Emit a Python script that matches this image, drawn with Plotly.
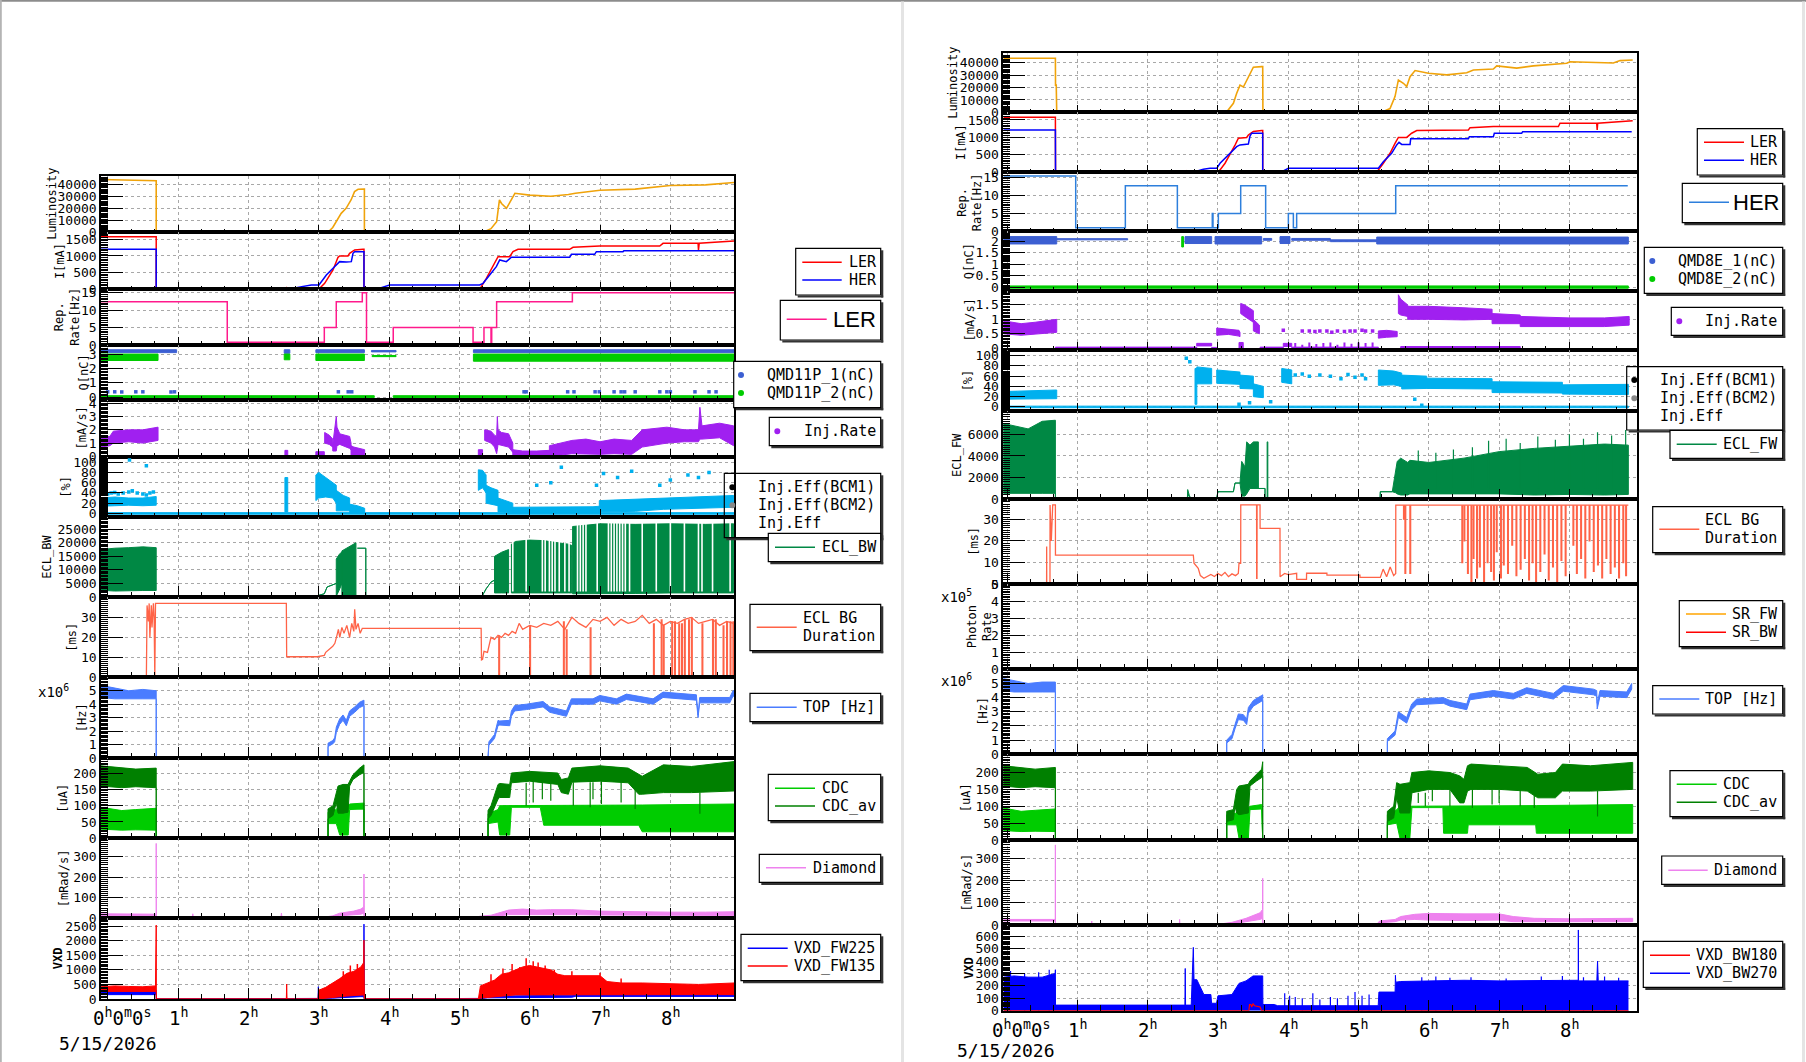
import plotly.graph_objects as go

W, H = 1806, 1062

# ======================= LEFT canvas data (time in hours) =======================
L_LUM_T = [-0.095, 0.69, 0.69, 3.13, 3.20, 3.25, 3.32, 3.39, 3.46, 3.51, 3.56, 3.64, 3.65, 3.65,
           5.34, 5.45, 5.53, 5.57, 5.60, 5.67, 5.74, 5.79, 6.00, 6.30, 6.55, 6.65, 7.00, 7.50, 8.00, 8.50, 8.905]
L_LUM_V = [44000, 43000, 0, 0, 4000, 8800, 15800, 20000, 26900, 33900, 35800, 36000, 36000, 0,
           0, 3000, 8800, 27000, 24000, 20000, 27000, 32500, 31000, 30000, 31500, 32500, 35000, 36000, 39000, 39500, 41500]

L_LER_T = [-0.095, 0.69, 0.69, 2.52, 2.54, 2.56, 3.00, 3.085, 3.204, 3.275, 3.298, 3.417, 3.44, 3.512, 3.63, 3.644,
           3.644, 5.289, 5.384, 5.479, 5.55, 5.716, 5.763, 5.834, 6.569, 6.616, 6.996, 7.849, 7.896, 8.394, 8.40, 8.41,
           8.844, 8.905]
L_LER_V = [1580, 1580, 0, 0, 50, 0, 0, 180, 580, 960, 1000, 1000, 1080, 1180, 1200, 1200,
           0, 0, 330, 680, 980, 980, 1130, 1200, 1200, 1260, 1300, 1300, 1380, 1380, 1180, 1380, 1450, 1450]
L_HER_T = [-0.095, 0.69, 0.69, 2.66, 2.683, 2.896, 3.004, 3.109, 3.204, 3.298, 3.393, 3.464, 3.488, 3.512, 3.644,
           3.644, 3.85, 3.89, 4.009, 5.289, 5.337, 5.432, 5.526, 5.574, 5.668, 5.74, 6.569, 6.593, 6.924, 6.948,
           7.327, 7.34, 8.905]
L_HER_V = [1200, 1200, 0, 0, 50, 130, 130, 430, 630, 830, 820, 830, 1080, 1130, 1130,
           0, 0, 50, 130, 130, 180, 430, 680, 880, 830, 960, 960, 1050, 1050, 1130, 1130, 1160, 1160]

L_REP_T = [-0.095, 1.70, 3.08, 3.25, 3.62, 3.68, 4.06, 5.195, 5.35, 5.45, 5.46, 5.53, 6.607, 8.905]
L_REP_V = [12.4, 0.8, 5, 12.4, 15, 0.8, 5, 0.8, 5, 0.8, 5, 12.4, 15, 15]

L_Q1_T0 = [-0.095, 2.51, 2.96, 3.75, 5.20]
L_Q1_T1 = [0.98, 2.59, 3.65, 4.10, 8.905]
L_Q1_LO = [3.1, 3.05, 3.1, 3.15, 3.1]
L_Q1_HI = [3.3, 3.3, 3.3, 3.25, 3.3]
L_Q1_DOT_T = [0.0, 0.1, 0.2, 0.4, 0.5, 0.9, 0.95, 3.28, 3.42, 3.47, 5.92, 5.95, 6.54, 6.63, 6.93, 6.99,
              7.2, 7.3, 7.35, 7.5, 7.85, 7.95, 8.0, 8.35, 8.55, 8.65]
L_Q1_DOT_V = [0.37, 0.37, 0.36, 0.37, 0.37, 0.36, 0.37, 0.37, 0.37, 0.37, 0.37, 0.37, 0.37, 0.37, 0.37, 0.37,
              0.37, 0.37, 0.37, 0.37, 0.37, 0.37, 0.37, 0.37, 0.37, 0.37]
L_Q2_T0 = [-0.095, 2.51, 2.96, 3.76, 5.20, -0.095, 4.06]
L_Q2_T1 = [0.716, 2.59, 3.65, 4.10, 8.905, 3.79, 8.905]
L_Q2_LO = [2.55, 2.6, 2.55, 2.82, 2.5, -0.03, -0.03]
L_Q2_HI = [3.0, 3.0, 3.0, 2.9, 3.0, 0.1, 0.1]

L_IR_T = [[-0.095, 0.03, 0.08, 0.3, 0.5, 0.716], [0.69, 8.905], [2.52, 2.56], [2.96, 3.08], [3.085, 3.15, 3.2],
          [3.2, 3.25, 3.26, 3.3, 3.44, 3.46], [3.46, 3.5, 3.654], [5.27, 5.33],
          [5.36, 5.45, 5.5, 5.53, 5.54, 5.55, 5.6, 5.7, 5.76], [5.76, 5.9, 6.1, 6.28],
          [6.28, 6.45, 6.6, 6.8, 7.0, 7.2, 7.45, 7.6, 7.95, 8.2, 8.4, 8.42, 8.45, 8.7, 8.9]]
L_IR_LO = [[0.7, 0.8, 1.0, 1.1, 1.0, 1.2], [-0.03, -0.03], [0, 0], [0.1, 0.1], [1.0, 0.9, 0.7],
           [0.4, 0.4, 0.8, 0.9, 0.6, 0.5], [0.0, 0.0, 0.0], [0, 0], [1.2, 1.0, 0.7, 0.2, 0.5, 0.9, 0.8, 0.7, 0.3],
           [0, 0, 0, 0], [0.1, 0.1, 0.2, 0.2, 0.15, 0.2, 0.15, 0.7, 1.0, 1.1, 1.1, 1.3, 1.3, 1.4, 0.8]]
L_IR_HI = [[1.5, 1.5, 1.9, 2.0, 2.0, 2.2], [0.05, 0.05], [0.45, 0.45], [0.35, 0.35], [1.8, 1.6, 1.3],
           [0.9, 3.0, 2.2, 1.7, 1.5, 1.0], [0.8, 0.7, 0.5], [0.5, 0.5], [2.0, 1.9, 1.6, 1.5, 3.0, 2.0, 1.8, 1.7, 1.0],
           [0.5, 0.4, 0.4, 0.45], [0.8, 1.0, 1.2, 1.3, 1.1, 1.3, 1.2, 2.0, 2.2, 2.0, 2.0, 3.7, 2.3, 2.5, 2.3]]

L_EFF_T = [[-0.095, 8.905], [-0.095, 0.1, 0.3, 0.5, 0.69], [2.52, 2.56], [2.96, 3.0, 3.1, 3.2, 3.25],
           [3.25, 3.35, 3.44], [3.44, 3.55, 3.654], [5.27, 5.33, 5.38], [5.38, 5.45, 5.55], [5.55, 5.65, 5.76],
           [5.76, 6.5, 6.9, 6.99], [6.99, 7.5, 7.9, 8.4, 8.9]]
L_EFF_LO = [[-1.5, -1.5], [14, 15, 16, 15, 16], [3, 3], [25, 30, 32, 30, 20], [5, 5, 5], [0, 0, 0], [45, 50, 40],
            [20, 18, 15], [3, 3, 2], [0, 0, 0, 0], [3, 4, 8, 10, 12]]
L_EFF_HI = [[1.5, 1.5], [30, 32, 30, 30, 33], [70, 70], [75, 80, 70, 60, 55], [45, 35, 30], [18, 15, 10],
            [85, 84, 75], [55, 50, 45], [30, 25, 20], [12, 12, 13, 14], [25, 28, 30, 32, 35]]
L_EFF_DOT_T = [0.0, 0.05, 0.1, 0.15, 0.22, 0.3, 0.31, 0.35, 0.42, 0.5, 0.55, 0.55, 0.6, 0.65, 6.1, 6.3, 6.45,
               6.95, 7.05, 7.25, 7.45, 7.85, 8.0, 8.25, 8.4, 8.55]
L_EFF_DOT_V = [38, 40, 41, 38, 40, 42, 104, 44, 40, 38, 36, 93, 40, 42, 55, 60, 90, 55, 78, 70, 82, 55, 65, 75, 70, 80]

L_ECL_T = [[-0.095, 8.905], [-0.095, 0.1, 0.3, 0.5, 0.69], [3.0, 3.08, 3.12, 3.2, 3.25], [3.25, 3.3, 3.33],
           [3.33, 3.4, 3.48, 3.53], [3.55, 3.67, 3.67], [5.27, 5.33, 5.38, 5.45, 5.5], [5.5, 5.6, 5.7],
           [5.74, 5.8, 6.0, 6.2, 6.4, 6.55, 6.6], [6.61, 6.8, 7.0, 7.5, 8.0, 8.5, 8.9]]
L_ECL_LO = [[0, 0], [2500, 2200, 2300, 2400, 2400], [600, 1200, 3700, 4500, 5000], [300, 3000, 5000],
            [600, 600, 600, 600], [18000, 18000, 0], [0, 600, 3000, 5500, 6200], [1500, 1500, 1500],
            [1500, 1500, 1500, 1500, 1500, 1500, 1500], [1200, 1200, 1200, 1300, 1500, 1600, 1500]]
L_ECL_HI = [[0, 0], [17500, 18000, 18200, 18500, 18200], [600, 1200, 3700, 4500, 5000], [14000, 16000, 16500],
            [17000, 18000, 19000, 20000], [18000, 18000, 0], [0, 600, 3000, 5500, 6200], [15000, 16500, 17500],
            [19500, 20500, 21000, 20800, 20000, 19500, 19000], [26000, 26500, 27000, 26800, 27000, 26800, 27000]]
L_ECL_GAP_T = [5.76, 5.95, 6.18, 6.22, 6.28, 6.32, 6.36, 6.42, 6.5, 6.56, 6.68, 6.72, 6.76, 6.8, 6.96, 7.12,
               7.16, 7.2, 7.24, 7.28, 7.32, 7.36, 7.42, 7.6, 7.8, 8.0, 8.2, 8.4, 8.45, 8.6, 8.85]

L_MS_T = [0.55, 0.56, 0.58, 0.59, 0.60, 0.62, 0.63, 0.65, 0.66, 0.67, 0.68, 0.69, 2.54, 2.545, 2.98, 3.08, 3.10,
          3.20, 3.23, 3.26, 3.28, 3.30, 3.33, 3.36, 3.40, 3.44, 3.47, 3.50, 3.512, 3.53, 3.56, 3.59, 3.62, 5.31,
          5.315, 5.33, 5.35, 5.40, 5.42, 5.45, 5.50, 5.55, 5.60, 5.65, 5.70, 5.75, 5.80, 5.85, 5.90, 6.0, 6.1,
          6.2, 6.3, 6.4, 6.5, 6.6, 6.7, 6.8, 6.9, 7.0, 7.1, 7.2, 7.3, 7.4, 7.5, 7.6, 7.7, 7.8, 7.9, 8.0, 8.1,
          8.2, 8.3, 8.4, 8.5, 8.6, 8.7, 8.8, 8.9]
L_MS_V = [0, 36, 28, 37, 20, 36, 25, 37, 30, 0, 37, 37, 37, 10.3, 10.3, 11, 12.5, 15.5, 17, 21, 24, 20, 25, 22,
          26, 20, 27, 23, 34, 24, 27, 22, 24.5, 24.5, 8.7, 9, 13, 12.5, 15, 20, 19, 21, 20, 22, 21, 23, 22, 27,
          24, 26, 25, 27, 26, 28, 24, 30, 27, 25, 29, 28, 30, 26, 29, 27, 28, 31, 27, 29, 26, 28, 27, 29, 30,
          27, 28, 29, 26, 28, 27]
L_MS_DROP_T = [5.56, 6.0, 6.48, 6.52, 6.86, 7.76, 7.87, 7.9, 8.02, 8.06, 8.12, 8.16, 8.2, 8.26, 8.3, 8.45,
               8.6, 8.64, 8.75, 8.8, 8.85, 8.89]
L_MS_DROP_V = [0, 0, 0, 0, 0, 0, 0, 0, 0, 0, 0, 0, 0, 0, 0, 0, 0, 0, 0, 0, 0, 0]

L_TOP_T = [-0.095, 0.1, 0.3, 0.5, 0.69, 0.69, 3.133, 3.133, 3.20, 3.227, 3.251, 3.298, 3.346, 3.393, 3.44, 3.512,
           3.583, 3.644, 3.644, 5.408, 5.408, 5.42, 5.50, 5.55, 5.574, 5.716, 5.74, 5.787, 5.953, 6.19, 6.285,
           6.522, 6.593, 6.9, 6.996, 7.233, 7.375, 7.754, 7.896, 8.37, 8.394, 8.417, 8.844, 8.891, 8.905]
L_TOP_LO = [4.5, 4.4, 4.4, 4.4, 4.4, 0, 0, 0.85, 1.05, 1.2, 1.9, 2.5, 2.8, 2.4, 3.1, 3.4, 3.75, 3.9, 0, 0,
            0, 0.95, 1.45, 2.4, 2.45, 2.4, 3.1, 3.5, 3.6, 3.8, 3.4, 3.1, 4.0, 4.0, 4.25, 4.0, 4.35, 4.0, 4.5, 4.3,
            3.0, 4.1, 4.1, 4.6, 4.6]
L_TOP_HI = [5.4, 5.2, 5.0, 5.1, 5.0, 0, 0, 1.1, 1.3, 1.5, 2.3, 2.9, 3.2, 2.8, 3.5, 3.8, 4.15, 4.3, 0, 0,
            0.1, 1.2, 1.75, 2.8, 2.75, 2.8, 3.5, 3.9, 4.0, 4.2, 3.8, 3.5, 4.4, 4.4, 4.65, 4.4, 4.75, 4.4, 4.9, 4.7,
            3.2, 4.5, 4.5, 5.0, 5.0]

L_CDCAV_T = [-0.095, 0.2, 0.4, 0.69, 0.69, 3.133, 3.133, 3.204, 3.251, 3.275, 3.346, 3.417, 3.44, 3.488, 3.583,
             3.63, 3.644, 3.644, 5.408, 5.408, 5.45, 5.55, 5.574, 5.716, 5.74, 6.0, 6.4, 6.45, 6.55, 6.6, 7.0,
             7.4, 7.55, 7.6, 7.9, 8.3, 8.905]
L_CDCAV_LO = [160, 155, 158, 155, 0, 0, 60, 70, 110, 77, 77, 80, 160, 180, 195, 200, 200, 0, 0, 60, 70, 120,
              125, 125, 170, 175, 165, 140, 135, 172, 175, 170, 135, 135, 140, 140, 145]
L_CDCAV_HI = [222, 215, 212, 215, 0, 0, 90, 100, 140, 160, 165, 165, 175, 195, 215, 225, 225, 0, 0, 85, 100,
              165, 168, 165, 200, 205, 200, 180, 185, 215, 222, 215, 195, 190, 225, 220, 235]
L_CDCAV_DIP_T = [5.95, 6.05, 6.18, 6.3, 6.62, 6.86, 6.9, 7.02, 7.3, 7.5, 8.42]
L_CDCAV_DIP_V = [100, 110, 120, 115, 100, 95, 120, 105, 110, 90, 75]
L_CDC_T = [-0.095, 0.2, 0.4, 0.69, 0.69, 3.133, 3.133, 3.25, 3.3, 3.42, 3.44, 3.644, 3.644, 5.408, 5.408, 5.55,
           5.574, 5.716, 5.74, 6.15, 6.2, 7.55, 7.6, 8.905]
L_CDC_LO = [28, 25, 26, 25, 0, 0, 45, 45, 10, 10, 88, 90, 0, 0, 45, 50, 10, 10, 95, 95, 40, 40, 20, 20]
L_CDC_HI = [95, 85, 88, 92, 0, 0, 80, 88, 105, 100, 105, 108, 0, 0, 75, 88, 100, 100, 102, 102, 102, 102, 102, 105]

L_DIA_T = [-0.095, 0.69, 0.69, 0.692, 1.2, 1.21, 1.22, 2.46, 2.47, 2.48, 3.0, 3.1, 3.2, 3.3, 3.4, 3.5, 3.6,
           3.64, 3.644, 3.65, 5.2, 5.29, 5.45, 5.55, 5.7, 5.9, 6.1, 6.3, 6.6, 7.0, 7.5, 8.0, 8.5, 8.905]
L_DIA_LO = [12, 12, 12, 0, 0, 0, 0, 0, 0, 0, 0, 2, 5, 12, 15, 18, 20, 25, 25, 0, 0, 4, 6, 10, 18, 20, 18, 18,
            18, 16, 15, 14, 14, 14]
L_DIA_HI = [22, 20, 365, 0, 0, 22, 0, 0, 25, 0, 2, 8, 12, 25, 30, 35, 45, 55, 216, 0, 0, 10, 15, 25, 40, 45,
            40, 42, 42, 35, 32, 30, 30, 32]

L_VXDB_T = [-0.095, 0.69, 0.69, 0.692, 2.99, 2.995, 3.0, 3.005, 3.2, 3.4, 3.6, 3.64, 3.644, 3.65, 5.27, 5.4,
            6.6, 6.65, 8.905]
L_VXDB_LO = [150, 150, 150, 0, 0, 0, 20, 20, 30, 50, 80, 80, 80, 0, 0, 40, 60, 90, 90]
L_VXDB_HI = [300, 300, 300, 0, 10, 420, 150, 150, 200, 150, 150, 150, 2570, 0, 20, 100, 130, 160, 170]
L_VXDR_T = [-0.095, 0.1, 0.3, 0.5, 0.68, 0.69, 0.692, 2.54, 2.545, 2.55, 2.99, 3.0, 3.1, 3.2, 3.3, 3.4, 3.5,
            3.6, 3.64, 3.644, 3.65, 5.27, 5.3, 5.4, 5.5, 5.6, 5.7, 5.8, 5.9, 6.0, 6.1, 6.2, 6.3, 6.4, 6.5, 6.6,
            6.8, 7.0, 7.1, 7.3, 7.6, 8.0, 8.4, 8.905]
L_VXDR_LO = [260, 260, 260, 260, 260, 260, 0, 0, 0, 0, 0, 20, 40, 60, 80, 100, 120, 140, 140, 140, 0, 0, 30,
             60, 80, 100, 120, 140, 150, 150, 150, 150, 150, 150, 150, 150, 150, 150, 150, 150, 150, 150, 150, 150]
L_VXDR_HI = [420, 450, 430, 420, 450, 2535, 0, 0, 514, 0, 0, 300, 400, 540, 700, 880, 950, 1100, 1250, 2020, 0,
             0, 450, 550, 650, 850, 900, 1000, 1100, 1150, 1100, 1050, 1000, 850, 800, 800, 800, 800, 600, 550,
             550, 520, 500, 550]
L_VXDR_SPK_T = [5.45, 5.62, 5.75, 5.86, 5.95, 6.05, 6.12, 6.22, 6.35, 6.6, 7.0, 7.3, 3.35, 3.45, 3.55]
L_VXDR_SPK_V = [850, 1050, 1200, 1100, 1400, 1300, 1250, 1150, 1000, 950, 900, 700, 950, 1150, 1200]

# ======================= RIGHT canvas data =======================
R_LUM_T = [-0.052, 0.688, 0.69, 0.70, 0.707, 3.101, 3.148, 3.22, 3.267, 3.314, 3.362, 3.409, 3.456, 3.504,
           3.622, 3.637, 3.64, 5.33, 5.448, 5.519, 5.567, 5.638, 5.685, 5.733, 5.804, 5.994, 6.254, 6.539, 6.634,
           6.918, 6.966, 7.25, 7.487, 7.961, 8.009, 8.625, 8.72, 8.9]
R_LUM_V = [43800, 43800, 22000, 22000, 0, 0, 2000, 7300, 15400, 22000, 20500, 26000, 31600, 36500, 37000,
           37000, 0, 0, 3000, 12700, 26200, 23500, 20800, 28900, 33800, 31600, 30300, 32000, 34300, 35100,
           37600, 35800, 37600, 39700, 41000, 40000, 41900, 42400]

R_LER_T = [-0.052, 0.688, 0.69, 2.53, 2.546, 2.56, 2.983, 3.03, 3.101, 3.172, 3.243, 3.291, 3.409, 3.433,
           3.504, 3.622, 3.637, 3.637, 5.259, 5.353, 5.448, 5.519, 5.567, 5.685, 5.756, 5.828, 6.563, 6.586,
           6.918, 7.843, 7.866, 8.388, 8.395, 8.402, 8.815, 8.9]
R_LER_V = [1580, 1580, 0, 0, 40, 0, 0, 70, 260, 500, 780, 975, 1000, 1070, 1170, 1195, 1195, 0, 0, 260, 545,
           830, 1000, 1000, 1120, 1195, 1215, 1280, 1310, 1310, 1405, 1405, 1215, 1405, 1450, 1480]
R_HER_T = [-0.052, 0.688, 0.69, 2.68, 2.698, 2.793, 2.888, 2.983, 3.03, 3.172, 3.267, 3.314, 3.433, 3.456,
           3.48, 3.622, 3.637, 3.637, 3.90, 3.931, 4.002, 4.035, 5.282, 5.353, 5.471, 5.543, 5.576, 5.614,
           5.733, 5.742, 6.563, 6.577, 6.918, 6.932, 7.321, 7.335, 8.886]
R_HER_V = [1215, 1215, 0, 0, 30, 90, 115, 115, 260, 545, 735, 785, 810, 1040, 1120, 1120, 1120, 0, 0, 40, 115,
           115, 115, 300, 545, 785, 860, 800, 800, 965, 965, 1020, 1020, 1120, 1120, 1165, 1165]

R_REP_T = [-0.052, 0.977, 1.683, 2.423, 2.92, 2.93, 3.006, 3.324, 3.679, 4.002, 4.073, 4.12, 5.529, 8.83]
R_REP_V = [15.3, 1.0, 12.6, 1.0, 4.9, 1.0, 4.9, 12.6, 1.0, 4.9, 1.0, 4.9, 12.6, 12.6]

R_Q1_T0 = [-0.052, 0.707, 2.532, 2.959, 3.646, 3.883, 4.05, 4.6, 5.259]
R_Q1_T1 = [0.707, 1.716, 2.911, 3.622, 3.765, 4.025, 4.6, 5.259, 8.838]
R_Q1_LO = [1.88, 2.06, 1.9, 1.88, 2.04, 1.9, 2.04, 1.98, 1.88]
R_Q1_HI = [2.2, 2.11, 2.2, 2.2, 2.12, 2.2, 2.12, 2.06, 2.18]
R_Q2_T0 = [-0.052, 2.485]
R_Q2_T1 = [8.838, 2.51]
R_Q2_LO = [-0.04, 1.75]
R_Q2_HI = [0.06, 2.2]

R_IR_T = [[-0.052, 0.2, 0.4, 0.707], [0.688, 2.698], [2.698, 2.911], [2.911, 2.983], [2.983, 3.15, 3.3, 3.314],
          [3.324, 3.38, 3.504], [3.504, 3.59], [3.3, 3.36], [3.6, 3.93], [3.93, 4.05], [4.05, 5.282],
          [5.282, 5.4, 5.55], [5.567, 5.6, 5.7], [5.7, 6.0, 6.5, 6.9], [6.9, 7.3], [7.3, 8.0, 8.5, 8.85],
          [5.6, 7.3]]
R_IR_LO = [[0.5, 0.45, 0.5, 0.55], [-0.01, -0.01], [0.08, 0.08], [-0.02, -0.02], [0.45, 0.48, 0.42, 0.4],
           [1.2, 1.1, 0.9], [0.6, 0.5], [0.0, 0.0], [-0.01, -0.01], [0.06, 0.06], [-0.01, -0.01],
           [0.35, 0.38, 0.4], [1.2, 1.15, 1.1], [1.0, 1.0, 0.98, 1.0], [0.85, 0.85], [0.75, 0.75, 0.75, 0.8],
           [0.0, 0.0]]
R_IR_HI = [[0.95, 0.85, 0.9, 1.0], [0.04, 0.04], [0.17, 0.17], [0.03, 0.03], [0.7, 0.66, 0.62, 0.55],
           [1.55, 1.5, 1.3], [1.0, 0.8], [0.2, 0.2], [0.04, 0.04], [0.17, 0.17], [0.04, 0.04],
           [0.6, 0.62, 0.58], [1.85, 1.7, 1.5], [1.45, 1.45, 1.4, 1.35], [1.2, 1.15], [1.1, 1.05, 1.05, 1.1],
           [0.06, 0.06]]
R_IR_DOT_T = [4.2, 4.3, 4.38, 4.45, 4.55, 4.62, 4.7, 4.8, 4.88, 4.95, 5.05, 5.1, 5.2, 3.93]
R_IR_DOT_V = [0.6, 0.6, 0.58, 0.6, 0.6, 0.55, 0.6, 0.58, 0.6, 0.6, 0.62, 0.6, 0.6, 0.62]
R_IR_TICK_T = [4.1, 4.2, 4.3, 4.4, 4.5, 4.6, 4.7, 4.8, 4.9, 5.0, 5.1, 5.2]
R_IR_TICK_V = [0.18, 0.12, 0.2, 0.15, 0.18, 0.2, 0.12, 0.2, 0.16, 0.2, 0.18, 0.2]

R_EFF_T = [[-0.052, 8.838], [-0.052, 0.3, 0.707], [2.674, 2.7], [2.7, 2.911], [2.983, 3.314], [3.314, 3.504],
           [3.504, 3.646], [3.907, 4.05], [5.282, 5.5, 5.614], [5.614, 5.97], [5.97, 6.9], [6.9, 7.9],
           [7.9, 8.838]]
R_EFF_LO = [[-1.5, -1.5], [15, 15, 16], [5, 5], [45, 45], [46, 44], [36, 35], [20, 18], [48, 45], [42, 43, 40],
            [35, 36], [36, 35], [28, 27], [25, 24]]
R_EFF_HI = [[1.5, 1.5], [30, 31, 33], [75, 75], [78, 75], [72, 68], [62, 60], [45, 40], [75, 72], [72, 70, 66],
            [62, 60], [56, 55], [49, 48], [43, 44]]
R_EFF_DOT_T = [4.1, 4.2, 4.3, 4.45, 4.6, 4.75, 4.85, 4.95, 5.05, 5.1, 2.55, 2.6, 3.3, 3.45, 3.75, 5.8, 5.9]
R_EFF_DOT_V = [62, 64, 60, 62, 60, 55, 63, 58, 62, 55, 95, 88, 5, 8, 10, 15, 3]

R_ECL_T = [-0.052, 0.1, 0.3, 0.5, 0.688, 0.688, 2.565, 2.57, 2.60, 2.65, 2.983, 3.0, 3.22, 3.243, 3.314,
           3.338, 3.385, 3.409, 3.456, 3.504, 3.575, 3.576, 3.67, 3.67, 3.70, 3.70, 3.71, 3.71, 5.306, 5.31,
           5.48, 5.53, 5.55, 5.6, 5.7, 5.73, 6.0, 6.5, 7.0, 7.5, 8.0, 8.5, 8.838]
R_ECL_LO = [550, 550, 550, 550, 550, 0, 0, 400, 200, 100, 100, 700, 700, 1500, 1500, 300, 300, 500, 1000,
            1000, 1000, 1000, 1000, 0, 0, 0, 0, 0, 0, 700, 700, 600, 500, 400, 400, 500, 500, 500, 500, 400,
            450, 400, 450]
R_ECL_HI = [7000, 6800, 6500, 7200, 7300, 0, 0, 900, 200, 100, 100, 700, 700, 1500, 1500, 3500, 3000, 5300,
            5000, 5300, 5300, 1000, 1000, 0, 0, 5300, 5300, 0, 0, 700, 700, 2700, 3500, 3800, 3400, 3600, 3400,
            3800, 4400, 4700, 4900, 5100, 5000]
R_ECL_SPK_T = [5.85, 6.1, 6.35, 6.62, 6.85, 7.1, 7.3, 7.55, 7.8, 8.0, 8.2, 8.4, 8.6, 8.8]
R_ECL_SPK_V = [4500, 4300, 4600, 4800, 5400, 5600, 5200, 5800, 5500, 6000, 5600, 6200, 5900, 6400]

R_MS_T = [0.563, 0.564, 0.565, 0.611, 0.612, 0.63, 0.64, 0.65, 0.688, 0.689, 2.65, 2.66, 2.72, 2.75, 2.80,
          2.84, 2.90, 2.95, 3.00, 3.05, 3.10, 3.15, 3.20, 3.25, 3.29, 3.30, 3.324, 3.325, 3.55, 3.551, 3.556,
          3.557, 3.599, 3.60, 3.883, 3.884, 3.95, 4.0, 4.12, 4.121, 4.26, 4.261, 4.55, 4.551, 5.02, 5.021, 5.31,
          5.35, 5.40, 5.45, 5.50, 5.529, 5.53, 8.838]
R_MS_V = [0, 17.4, 0, 0, 36.6, 20, 36.6, 36.6, 36.6, 13.5, 13.5, 9.7, 7.4, 4.0, 2.8, 3.5, 4.5, 3.6, 5.0, 4.0,
          5.5, 3.5, 4.8, 4.0, 5.0, 9.7, 9.7, 36.6, 36.6, 2.8, 2.8, 36.6, 36.6, 25.8, 25.8, 3.5, 5.0, 4.5, 5.1,
          2.3, 2.3, 5.1, 5.1, 4.2, 4.2, 3.2, 3.2, 7.0, 3.5, 8.0, 4.0, 5.0, 36.5, 36.5]
R_MS_DROP_T = [5.64, 5.66, 5.73, 6.47, 6.50, 6.55, 6.60, 6.63, 6.68, 6.72, 6.78, 6.83, 6.88, 6.92, 6.96, 7.02,
               7.06, 7.12, 7.18, 7.24, 7.30, 7.36, 7.42, 7.47, 7.52, 7.58, 7.64, 7.70, 7.76, 7.82, 7.88, 7.94,
               8.05, 8.10, 8.16, 8.22, 8.28, 8.34, 8.40, 8.46, 8.52, 8.58, 8.64, 8.70, 8.76, 8.80]
R_MS_DROP_V = [30, 5, 5, 10, 20, 5, 0, 12, 3, 8, 1, 10, 6, 2, 15, 3, 9, 5, 18, 4, 7, 12, 2, 10, 0.5, 6, 14, 2,
               8, 0.5, 11, 4, 18, 5, 12, 3, 20, 6, 9, 3, 12, 5, 8, 3, 10, 4]

R_SR_T = [-0.052, 8.838]
R_SRFW_V = [0, 0]
R_SRBW_V = [0, 0]

R_TOP_T = [-0.052, 0.1, 0.3, 0.5, 0.688, 0.688, 3.125, 3.125, 3.2, 3.243, 3.291, 3.362, 3.409, 3.433, 3.504,
           3.622, 3.637, 3.637, 5.41, 5.41, 5.519, 5.567, 5.685, 5.756, 5.828, 6.207, 6.302, 6.539, 6.586,
           6.918, 7.203, 7.392, 7.772, 7.914, 8.341, 8.388, 8.395, 8.435, 8.815, 8.886]
R_TOP_LO = [4.5, 4.4, 4.4, 4.4, 4.4, 0, 0, 0.8, 1.1, 1.8, 2.45, 2.4, 2.1, 2.9, 3.4, 3.75, 3.8, 0, 0, 0.9, 1.35,
            2.6, 2.2, 3.15, 3.5, 3.6, 3.4, 3.15, 3.85, 4.1, 3.9, 4.3, 3.9, 4.45, 4.2, 4.1, 3.2, 4.1, 4.0, 4.6]
R_TOP_HI = [5.35, 5.2, 5.0, 5.1, 5.1, 0, 0, 1.0, 1.4, 2.1, 2.85, 2.8, 2.5, 3.3, 3.8, 4.15, 4.2, 0, 0, 1.1,
            1.65, 3.0, 2.6, 3.55, 3.9, 4.0, 3.8, 3.55, 4.25, 4.5, 4.3, 4.7, 4.3, 4.85, 4.6, 4.5, 3.6, 4.5, 4.4, 5.0]

R_CDCAV_T = [-0.052, 0.2, 0.4, 0.688, 0.688, 3.125, 3.125, 3.22, 3.243, 3.267, 3.3, 3.433, 3.456, 3.55, 3.622,
             3.637, 3.637, 5.41, 5.41, 5.5, 5.543, 5.59, 5.73, 5.76, 6.0, 6.3, 6.44, 6.5, 6.55, 6.6, 7.0, 7.4,
             7.55, 7.8, 7.9, 8.3, 8.9]
R_CDCAV_LO = [160, 155, 158, 155, 0, 0, 55, 60, 100, 80, 75, 80, 160, 175, 185, 190, 0, 0, 55, 65, 125, 80,
              80, 140, 150, 150, 110, 110, 145, 150, 150, 145, 125, 125, 145, 145, 150]
R_CDCAV_HI = [220, 215, 210, 215, 0, 0, 85, 90, 120, 150, 160, 165, 175, 195, 210, 232, 0, 0, 85, 100, 170,
              165, 170, 200, 205, 200, 190, 180, 220, 225, 220, 215, 195, 200, 225, 220, 230]
R_CDCAV_DIP_T = [5.85, 5.95, 6.05, 6.3, 6.62, 6.9, 7.0, 7.3, 7.5, 8.4]
R_CDCAV_DIP_V = [110, 100, 115, 100, 95, 105, 110, 100, 95, 70]
R_CDC_T = [-0.052, 0.2, 0.4, 0.688, 0.688, 3.125, 3.125, 3.267, 3.3, 3.433, 3.456, 3.622, 3.637, 5.41, 5.41,
           5.543, 5.59, 5.73, 5.76, 6.2, 6.21, 6.55, 6.56, 7.52, 7.53, 8.9]
R_CDC_LO = [28, 25, 26, 25, 0, 0, 45, 45, 5, 5, 90, 92, 0, 0, 45, 50, 5, 5, 96, 96, 20, 20, 45, 45, 20, 20]
R_CDC_HI = [95, 85, 88, 92, 0, 0, 75, 80, 95, 95, 100, 105, 0, 0, 75, 90, 100, 100, 100, 100, 100, 100, 100,
            100, 102, 105]

R_DIA_T = [-0.052, 0.686, 0.688, 0.69, 1.2, 1.205, 1.21, 2.45, 2.455, 2.46, 3.0, 3.2, 3.4, 3.6, 3.635, 3.637,
           3.64, 5.25, 5.3, 5.52, 5.6, 5.8, 6.0, 6.5, 7.0, 7.2, 7.5, 8.0, 8.5, 8.9]
R_DIA_LO = [18, 18, 18, 0, 0, 0, 0, 0, 0, 0, 0, 5, 15, 25, 30, 30, 0, 0, 10, 15, 22, 25, 22, 20, 22, 15, 15,
            15, 15, 15]
R_DIA_HI = [25, 25, 360, 0, 0, 18, 0, 0, 25, 0, 3, 12, 30, 55, 70, 210, 0, 0, 18, 25, 38, 48, 52, 50, 50, 38,
            30, 28, 28, 30]

R_VXDB_T = [-0.052, 0.1, 0.3, 0.5, 0.686, 0.688, 0.69, 2.53, 2.535, 2.54, 2.62, 2.645, 2.65, 2.66, 2.7, 2.8,
            2.9, 2.91, 2.98, 3.0, 3.2, 3.3, 3.4, 3.5, 3.62, 3.637, 3.64, 3.8, 3.85, 5.28, 5.29, 5.52, 5.525,
            5.53, 5.6, 6.0, 6.5, 7.0, 7.5, 8.0, 8.125, 8.127, 8.13, 8.39, 8.4, 8.41, 8.84]
R_VXDB_V = [270, 280, 270, 270, 300, 330, 45, 45, 340, 45, 45, 460, 510, 250, 250, 130, 130, 60, 60, 120, 130,
            220, 240, 280, 280, 280, 50, 50, 40, 40, 150, 150, 285, 230, 235, 240, 245, 240, 240, 245, 245,
            650, 240, 240, 400, 240, 240]
R_VXDB_SPK_T = [3.95, 4.02, 4.1, 4.2, 4.35, 4.45, 4.6, 4.7, 4.85, 4.95, 5.05, 5.15, 5.9, 6.1, 6.3, 6.6,
                7.1, 7.6, 7.9, 8.2, 8.5, 8.7, 0.05, 0.25, 0.45, 0.6]
R_VXDB_SPK_V = [140, 120, 110, 100, 140, 90, 110, 100, 120, 150, 120, 130, 270, 275, 265, 270, 260, 275, 280,
                270, 275, 265, 320, 300, 310, 330]
R_VXDR_T = [-0.052, 3.44, 3.45, 3.47, 3.48, 3.5, 3.52, 3.6, 3.62, 8.84]
R_VXDR_V = [0, 0, 50, 50, 30, 55, 40, 30, 0, 0]

# ======================= styling / layout =======================
MONO = "DejaVu Sans Mono"
GRID = "#a8a8a8"
C_LUM = "#f0a30a"; C_LER = "#ff0000"; C_HER = "#0000ff"; C_REP_L = "#ff1a8c"; C_REP_R = "#2d7fdc"
C_Q1 = "#3c5fd2"; C_Q2 = "#00cc00"; C_IR = "#a020f0"; C_EFF = "#00b0ee"; C_ECL = "#008844"
C_MS = "#ff6347"; C_TOP = "#4a7cff"; C_CDC = "#00cc00"; C_CDCAV = "#008000"; C_DIA = "#ee82ee"
C_SRFW = "#ffa500"; C_SRBW = "#ff0000"


def xp(px):
    return px / W


def yp(py):
    return 1 - py / H


LEFT_EDGES = [176, 232.3, 289.3, 345, 400, 457, 516.5, 597, 677.3, 758, 838.3, 918.3, 999]
RIGHT_EDGES = [53.3, 112.3, 172.3, 231.3, 291, 350, 410.7, 499.3, 584.3, 669.3, 754.3, 840, 925, 1010.7]
LX = (101, 734)
RX = (1003.3, 1636.7)
L_XR = [-0.095, 8.905]
R_XR = [-0.053, 8.957]
LEFT_YR = [(0, 46900), (0, 1710), (0, 16), (-0.2, 3.63), (-0.05, 4.25), (-6, 110), (0, 29700), (0, 40.2),
           (0, 6.0), (0, 246), (0, 390), (0, 2770)]
LEFT_DT = [10000, 500, 5, 1, 1, 20, 5000, 10, 1, 50, 100, 500]
LEFT_TMAX = [40000, 1500, 15, 3, 4, 100, 25000, 30, 5, 200, 300, 2500]
RIGHT_YR = [(0, 47800), (0, 1720), (0, 16.3), (-0.16, 2.43), (-0.06, 1.98), (-7.4, 111), (0, 8180), (0, 39.2),
            (0, 5.0), (0, 6.0), (0, 254), (0, 382), (0, 690)]
RIGHT_DT = [10000, 500, 5, 0.5, 0.5, 20, 2000, 10, 1, 1, 50, 100, 100]
RIGHT_TMAX = [40000, 1500, 15, 2, 1.5, 100, 6000, 30, 5, 5, 200, 300, 600]

LEFT_TITLES = ["Luminosity", "I[mA]", "Rep.<br>Rate[Hz]", "Q[nC]", "[mA/s]", "[%]", "ECL_BW", "[ms]", "[Hz]",
               "[uA]", "[mRad/s]", "<b>VXD</b>"]
LEFT_TITLE_X = [51.7, 59.3, 67.5, 83, 82, 66, 47, 72.5, 81.5, 63.5, 64, 57.5]
RIGHT_TITLES = ["Luminosity", "I[mA]", "Rep.<br>Rate[Hz]", "Q[nC]", "[mA/s]", "[%]", "ECL_FW", "[ms]",
                "Photon<br>Rate", "[Hz]", "[uA]", "[mRad/s]", "<b>VXD</b>"]
RIGHT_TITLE_X = [953, 961, 969.5, 969, 969, 968, 957, 974, 979.5, 983, 966, 966, 969]

fig = go.Figure()
layout = dict(width=W, height=H, margin=dict(l=0, r=0, t=0, b=0), autosize=False,
              paper_bgcolor="white", plot_bgcolor="white", showlegend=False,
              font=dict(family=MONO, size=13, color="black"))
annotations = []
shapes = []


def ax_ref(k):
    return ("x" if k == 1 else f"x{k}", "y" if k == 1 else f"y{k}")


def fmt_tick(v):
    if abs(v - round(v)) < 1e-9:
        return str(int(round(v)))
    return f"{v:g}"


def make_panel(k, xdom, xr, ytop, ybot, yr, dt, tmax, title, title_x, small):
    xname = "xaxis" if k == 1 else f"xaxis{k}"
    yname = "yaxis" if k == 1 else f"yaxis{k}"
    xref, yref = ax_ref(k)
    tl = 8 if small else 11
    layout[xname] = dict(domain=[xp(xdom[0]), xp(xdom[1])], range=xr, anchor=yref, showgrid=True,
                         gridcolor=GRID, griddash="3px,3px", gridwidth=1, tickmode="linear", tick0=0, dtick=1,
                         ticks="inside", ticklen=tl, tickcolor="black", tickwidth=1,
                         minor=dict(ticks="inside", ticklen=tl / 2, tickcolor="black", dtick=1 / 3, tick0=0,
                                    showgrid=False),
                         showticklabels=False, showline=True, linecolor="black", linewidth=1.5, mirror=True,
                         zeroline=False, fixedrange=True, automargin=False)
    n = int(round(tmax / dt))
    tv = [i * dt for i in range(n + 1)]
    layout[yname] = dict(domain=[yp(ybot), yp(ytop)], range=list(yr), anchor=xref, showgrid=True,
                         gridcolor=GRID, griddash="3px,3px", gridwidth=1, tickmode="array", tickvals=tv,
                         ticktext=[fmt_tick(v) for v in tv],
                         ticks="inside", ticklen=22, tickcolor="black", tickwidth=1,
                         minor=dict(ticks="inside", ticklen=7, tickcolor="black", tickmode="linear",
                                    dtick=dt / 10, tick0=0, showgrid=False),
                         showticklabels=True, tickfont=dict(family=MONO, size=13, color="black"),
                         showline=True, linecolor="black", linewidth=1.5, mirror=True,
                         zeroline=False, fixedrange=True, automargin=False)
    annotations.append(dict(x=xp(title_x), y=yp((ytop + ybot) / 2), xref="paper", yref="paper", text=title,
                            showarrow=False, textangle=-90, xanchor="center", yanchor="middle",
                            font=dict(family=MONO, size=12, color="black")))


for i in range(12):
    make_panel(i + 1, LX, L_XR, LEFT_EDGES[i], LEFT_EDGES[i + 1], LEFT_YR[i], LEFT_DT[i], LEFT_TMAX[i],
               LEFT_TITLES[i], LEFT_TITLE_X[i], i < 6)
for i in range(13):
    make_panel(i + 13, RX, R_XR, RIGHT_EDGES[i], RIGHT_EDGES[i + 1], RIGHT_YR[i], RIGHT_DT[i], RIGHT_TMAX[i],
               RIGHT_TITLES[i], RIGHT_TITLE_X[i], i < 6)


# ---------------- trace helpers ----------------
def add_line(k, t, v, color, width=1.5, shape="linear"):
    xr_, yr_ = ax_ref(k)
    fig.add_trace(go.Scatter(x=t, y=v, mode="lines", line=dict(color=color, width=width, shape=shape),
                             xaxis=xr_, yaxis=yr_, hoverinfo="skip"))


def poly(t, lo, hi):
    xs = list(t) + list(t)[::-1]
    ys = list(hi) + list(lo)[::-1]
    return xs + [xs[0]], ys + [ys[0]]


def add_clusters(k, T, LO, HI, color, lw=1.0):
    xr_, yr_ = ax_ref(k)
    xs, ys = [], []
    for t, lo, hi in zip(T, LO, HI):
        a, b = poly(t, lo, hi)
        xs += a + [None]
        ys += b + [None]
    fig.add_trace(go.Scatter(x=xs, y=ys, mode="lines", fill="toself", fillcolor=color,
                             line=dict(color=color, width=lw), xaxis=xr_, yaxis=yr_, hoverinfo="skip"))


def add_band(k, t, lo, hi, color, lw=1.0):
    add_clusters(k, [t], [lo], [hi], color, lw)


def add_rects(k, T0, T1, LO, HI, color):
    add_clusters(k, [[a, b] for a, b in zip(T0, T1)], [[l, l] for l in LO], [[h, h] for h in HI], color)


def add_dots(k, t, v, color, size=3.5):
    xr_, yr_ = ax_ref(k)
    fig.add_trace(go.Scatter(x=t, y=v, mode="markers", marker=dict(color=color, size=size, symbol="square"),
                             xaxis=xr_, yaxis=yr_, hoverinfo="skip"))


def add_vsegs(k, t, v0, v1, color, width=1.2):
    xr_, yr_ = ax_ref(k)
    xs, ys = [], []
    for a, b, c in zip(t, v0, v1):
        xs += [a, a, None]
        ys += [b, c, None]
    fig.add_trace(go.Scatter(x=xs, y=ys, mode="lines", line=dict(color=color, width=width),
                             xaxis=xr_, yaxis=yr_, hoverinfo="skip"))


def value_at(t, v, td):
    val = v[0]
    for a, b in zip(t, v):
        if a <= td:
            val = b
    return val


def add_dropouts(k, t, v, drops_t, drops_v, color, w=0.012):
    xr_, yr_ = ax_ref(k)
    xs, ys = [], []
    for td, low in zip(drops_t, drops_v):
        top = value_at(t, v, td)
        xs += [td, td, td + w, td + w, None]
        ys += [top, low, low, top, None]
    fig.add_trace(go.Scatter(x=xs, y=ys, mode="lines", line=dict(color=color, width=1.2),
                             xaxis=xr_, yaxis=yr_, hoverinfo="skip"))


# ---------------- LEFT traces ----------------
add_line(1, L_LUM_T, L_LUM_V, C_LUM, 1.6)
add_line(2, L_LER_T, L_LER_V, C_LER, 1.5)
add_line(2, L_HER_T, L_HER_V, C_HER, 1.5)
add_line(3, L_REP_T, L_REP_V, C_REP_L, 1.5, "hv")
add_rects(4, L_Q1_T0, L_Q1_T1, L_Q1_LO, L_Q1_HI, C_Q1)
add_dots(4, L_Q1_DOT_T, L_Q1_DOT_V, C_Q1)
add_rects(4, L_Q2_T0, L_Q2_T1, L_Q2_LO, L_Q2_HI, C_Q2)
add_clusters(5, L_IR_T, L_IR_LO, L_IR_HI, C_IR)
add_clusters(6, L_EFF_T, L_EFF_LO, L_EFF_HI, C_EFF)
add_dots(6, L_EFF_DOT_T, L_EFF_DOT_V, C_EFF)
add_clusters(7, L_ECL_T, L_ECL_LO, L_ECL_HI, C_ECL)
add_vsegs(7, L_ECL_GAP_T, [2000] * len(L_ECL_GAP_T), [28500] * len(L_ECL_GAP_T), "white", 1.6)
add_line(8, L_MS_T, L_MS_V, C_MS, 1.3)
add_dropouts(8, L_MS_T, L_MS_V, L_MS_DROP_T, L_MS_DROP_V, C_MS)
add_band(9, L_TOP_T, L_TOP_LO, L_TOP_HI, C_TOP)
add_band(10, L_CDC_T, L_CDC_LO, L_CDC_HI, C_CDC)
add_band(10, L_CDCAV_T, L_CDCAV_LO, L_CDCAV_HI, C_CDCAV)
add_vsegs(10, L_CDCAV_DIP_T, [value_at(L_CDCAV_T, L_CDCAV_LO, t) for t in L_CDCAV_DIP_T], L_CDCAV_DIP_V, C_CDCAV)
add_band(11, L_DIA_T, L_DIA_LO, L_DIA_HI, C_DIA)
add_band(12, L_VXDB_T, L_VXDB_LO, L_VXDB_HI, C_HER)
add_band(12, L_VXDR_T, L_VXDR_LO, L_VXDR_HI, C_LER)
add_vsegs(12, L_VXDR_SPK_T, [300] * len(L_VXDR_SPK_T), L_VXDR_SPK_V, C_LER, 1.5)

# ---------------- RIGHT traces ----------------
add_line(13, R_LUM_T, R_LUM_V, C_LUM, 1.6)
add_line(14, R_LER_T, R_LER_V, C_LER, 1.5)
add_line(14, R_HER_T, R_HER_V, C_HER, 1.5)
add_line(15, R_REP_T, R_REP_V, C_REP_R, 1.5, "hv")
add_rects(16, R_Q1_T0, R_Q1_T1, R_Q1_LO, R_Q1_HI, C_Q1)
add_rects(16, R_Q2_T0, R_Q2_T1, R_Q2_LO, R_Q2_HI, C_Q2)
add_clusters(17, R_IR_T, R_IR_LO, R_IR_HI, C_IR)
add_dots(17, R_IR_DOT_T, R_IR_DOT_V, C_IR)
add_vsegs(17, R_IR_TICK_T, [0] * len(R_IR_TICK_T), R_IR_TICK_V, C_IR, 2)
add_clusters(18, R_EFF_T, R_EFF_LO, R_EFF_HI, C_EFF)
add_dots(18, R_EFF_DOT_T, R_EFF_DOT_V, C_EFF)
add_band(19, R_ECL_T, R_ECL_LO, R_ECL_HI, C_ECL)
add_vsegs(19, R_ECL_SPK_T, [1000] * len(R_ECL_SPK_T), R_ECL_SPK_V, C_ECL, 1.2)
add_line(20, R_MS_T, R_MS_V, C_MS, 1.3)
add_dropouts(20, R_MS_T, R_MS_V, R_MS_DROP_T, R_MS_DROP_V, C_MS)
add_line(21, R_SR_T, R_SRBW_V, C_SRBW, 1.5)
add_line(21, R_SR_T, R_SRFW_V, C_SRFW, 1.5)
add_band(22, R_TOP_T, R_TOP_LO, R_TOP_HI, C_TOP)
add_band(23, R_CDC_T, R_CDC_LO, R_CDC_HI, C_CDC)
add_band(23, R_CDCAV_T, R_CDCAV_LO, R_CDCAV_HI, C_CDCAV)
add_vsegs(23, R_CDCAV_DIP_T, [value_at(R_CDCAV_T, R_CDCAV_LO, t) for t in R_CDCAV_DIP_T], R_CDCAV_DIP_V, C_CDCAV)
add_band(24, R_DIA_T, R_DIA_LO, R_DIA_HI, C_DIA)
xr25, yr25 = ax_ref(25)
fig.add_trace(go.Scatter(x=R_VXDB_T, y=R_VXDB_V, mode="lines", fill="tozeroy", fillcolor=C_HER,
                         line=dict(color=C_HER, width=1), xaxis=xr25, yaxis=yr25, hoverinfo="skip"))
add_vsegs(25, R_VXDB_SPK_T, [0] * len(R_VXDB_SPK_T), R_VXDB_SPK_V, C_HER, 1.2)
fig.add_trace(go.Scatter(x=R_VXDR_T, y=R_VXDR_V, mode="lines", line=dict(color=C_LER, width=1.2),
                         xaxis=xr25, yaxis=yr25, hoverinfo="skip"))

# ---------------- time axis labels ----------------
for side, (hx0, hstep, ylab, zero_x, date_xy) in {
        "L": (108, 70.33, 1017, 122.5, (107.5, 1043)),
        "R": (1007, 70.3, 1029, 1021.5, (1005.5, 1050))}.items():
    for h in range(1, 9):
        annotations.append(dict(x=xp(hx0 + hstep * h), y=yp(ylab), xref="paper", yref="paper",
                                text=f"{h}<sup>h</sup>", showarrow=False, xanchor="center", yanchor="middle",
                                font=dict(family=MONO, size=19, color="black")))
    annotations.append(dict(x=xp(zero_x), y=yp(ylab), xref="paper", yref="paper",
                            text="0<sup>h</sup>0<sup>m</sup>0<sup>s</sup>", showarrow=False, xanchor="center",
                            yanchor="middle", font=dict(family=MONO, size=19, color="black")))
    annotations.append(dict(x=xp(date_xy[0]), y=yp(date_xy[1]), xref="paper", yref="paper", text="5/15/2026",
                            showarrow=False, xanchor="center", yanchor="middle",
                            font=dict(family=MONO, size=18, color="black")))

for (ex, ey, p) in [(53, 691, 6), (956, 596, 5), (956, 680, 6)]:
    annotations.append(dict(x=xp(ex), y=yp(ey), xref="paper", yref="paper", text=f"x10<sup>{p}</sup>",
                            showarrow=False, xanchor="center", yanchor="middle",
                            font=dict(family=MONO, size=14, color="black")))


# ---------------- legends ----------------
def legend(box, items, sx, tx, transparent=False, big=False):
    x0, y0, x1, y1 = box
    shapes.append(dict(type="line", xref="paper", yref="paper", x0=xp(x1 + 1.5), x1=xp(x1 + 1.5),
                       y0=yp(y0 + 2), y1=yp(y1 + 2.5), line=dict(color="#333333", width=2.2)))
    shapes.append(dict(type="line", xref="paper", yref="paper", x0=xp(x0 + 2), x1=xp(x1 + 2.5),
                       y0=yp(y1 + 1.5), y1=yp(y1 + 1.5), line=dict(color="#333333", width=2.2)))
    shapes.append(dict(type="rect", xref="paper", yref="paper", x0=xp(x0), x1=xp(x1), y0=yp(y1), y1=yp(y0),
                       line=dict(color="black", width=1.2),
                       fillcolor="rgba(0,0,0,0)" if transparent else "white"))
    for kind, color, label, yc in items:
        if kind == "line":
            shapes.append(dict(type="line", xref="paper", yref="paper", x0=xp(sx[0]), x1=xp(sx[1]),
                               y0=yp(yc), y1=yp(yc), line=dict(color=color, width=1.5)))
        elif kind == "dot":
            shapes.append(dict(type="circle", xref="paper", yref="paper", x0=xp(sx[0] - 3), x1=xp(sx[0] + 3),
                               y0=yp(yc + 3), y1=yp(yc - 3), line=dict(color=color, width=0), fillcolor=color))
        if label:
            if big:
                font = dict(family="Liberation Sans Narrow, Liberation Sans, Arial", size=22, color="black")
            else:
                font = dict(family=MONO, size=15, color="black")
            annotations.append(dict(x=xp(tx), y=yp(yc), xref="paper", yref="paper", text=label,
                                    showarrow=False, xanchor="left", yanchor="middle", font=font))


# left canvas legends
legend((795.7, 248.3, 880.7, 295), [("line", C_LER, "LER", 262.3), ("line", C_HER, "HER", 280)], (802.3, 841.7), 846.5)
legend((780.3, 300.3, 880.7, 340), [("line", C_REP_L, "LER", 319.3)], (786.7, 826.7), 830.5, big=True)
legend((733.7, 361.3, 880.7, 407.7), [("dot", C_Q1, "QMD11P_1(nC)", 375), ("dot", C_Q2, "QMD11P_2(nC)", 393)],
       (741,), 765)
legend((769.3, 417.3, 880.7, 445.7), [("dot", C_IR, "Inj.Rate", 431.3)], (777.3,), 801.7)
legend((724.3, 473.3, 880.7, 537.7), [("dot", "black", "Inj.Eff(BCM1)", 487.3), ("dot", "#888888", "Inj.Eff(BCM2)", 505.3),
                                      ("none", C_EFF, "Inj.Eff", 522.7)], (732.3,), 756.3, transparent=True)
legend((768.3, 533.3, 880.7, 561.7), [("line", C_ECL, "ECL_BW", 547.3)], (775, 815), 819.7)
legend((750, 604.3, 880.7, 650.7), [("line", C_MS, None, 627.3), ("none", None, "ECL BG", 618.3),
                                    ("none", None, "Duration", 636)], (756.7, 796.7), 801.3)
legend((750, 693.3, 880.7, 721.7), [("line", C_TOP, "TOP [Hz]", 707.3)], (756.7, 796.7), 801.3)
legend((768.3, 774.3, 880.7, 820.7), [("line", C_CDC, "CDC", 788.3), ("line", C_CDCAV, "CDC_av", 806)], (775, 815), 819.7)
legend((759.3, 854.3, 880.7, 882.3), [("line", C_DIA, "Diamond", 867.7)], (766, 806), 810.7)
legend((741, 934.3, 880.7, 980.7), [("line", C_HER, "VXD_FW225", 948.3), ("line", C_LER, "VXD_FW135", 966)],
       (747.7, 787.7), 792.3)

# right canvas legends
legend((1697.3, 128.7, 1782.7, 175), [("line", C_LER, "LER", 142.3), ("line", C_HER, "HER", 160.3)], (1704, 1744), 1748.3)
legend((1682.3, 183.3, 1782.7, 222.7), [("line", C_REP_R, "HER", 202.3)], (1689, 1729), 1731, big=True)
legend((1644.3, 247.3, 1782.7, 293.3), [("dot", C_Q1, "QMD8E_1(nC)", 261), ("dot", C_Q2, "QMD8E_2(nC)", 279)],
       (1652.3,), 1676.3)
legend((1671.3, 307.3, 1782.7, 335.3), [("dot", C_IR, "Inj.Rate", 321.3)], (1679.3,), 1703.3)
legend((1626.7, 366.7, 1782.7, 430), [("dot", "black", "Inj.Eff(BCM1)", 380), ("dot", "#888888", "Inj.Eff(BCM2)", 398.3),
                                      ("none", C_EFF, "Inj.Eff", 416)], (1634.3,), 1658.3, transparent=True)
legend((1670, 430.3, 1782.7, 458.3), [("line", C_ECL, "ECL_FW", 444.3)], (1676.7, 1716.7), 1721.3)
legend((1652.7, 506.7, 1782.7, 552.7), [("line", C_MS, None, 529.3), ("none", None, "ECL BG", 520),
                                        ("none", None, "Duration", 538.3)], (1659.3, 1699.3), 1703.3)
legend((1679.3, 600.7, 1782.7, 646.7), [("line", C_SRFW, "SR_FW", 614), ("line", C_SRBW, "SR_BW", 632.3)],
       (1686, 1726), 1730)
legend((1652.7, 685.7, 1782.7, 714), [("line", C_TOP, "TOP [Hz]", 699)], (1659.3, 1699.3), 1703.3)
legend((1670, 770.7, 1782.7, 816.7), [("line", C_CDC, "CDC", 784.3), ("line", C_CDCAV, "CDC_av", 802.3)],
       (1676.7, 1716.7), 1721.3)
legend((1661.7, 856, 1782.7, 884.3), [("line", C_DIA, "Diamond", 870.3)], (1668.3, 1707.7), 1712.3)
legend((1643.3, 941.3, 1782.7, 987.3), [("line", C_SRBW, "VXD_BW180", 955.3), ("line", C_HER, "VXD_BW270", 973.3)],
       (1650, 1690), 1694)

# page frame / canvas separators
shapes.append(dict(type="line", xref="paper", yref="paper", x0=0, x1=1, y0=yp(0.8), y1=yp(0.8),
                   line=dict(color="#8c8c8c", width=2)))
shapes.append(dict(type="line", xref="paper", yref="paper", x0=xp(0.8), x1=xp(0.8), y0=0, y1=1,
                   line=dict(color="#b4b4b4", width=2)))
shapes.append(dict(type="line", xref="paper", yref="paper", x0=xp(902.5), x1=xp(902.5), y0=0, y1=yp(1.5),
                   line=dict(color="#e4e4e4", width=3)))
shapes.append(dict(type="line", xref="paper", yref="paper", x0=xp(1803.5), x1=xp(1803.5), y0=0, y1=yp(1.5),
                   line=dict(color="#e4e4e4", width=3)))

layout["annotations"] = annotations
layout["shapes"] = shapes
fig.update_layout(**layout)
fig.write_html("out.html")
